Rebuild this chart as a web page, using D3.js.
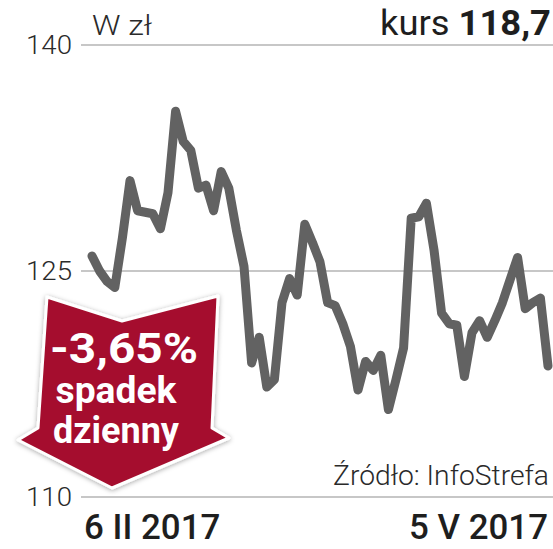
<!DOCTYPE html>
<html>
<head>
<meta charset="utf-8">
<script src="https://cdn.jsdelivr.net/npm/d3@7"></script>
<style>
  html, body { margin: 0; padding: 0; background: #fff; }
  svg { display: block; }
  text { font-family: Roboto, "Noto Sans", sans-serif; }
</style>
</head>
<body>
<div id="chart"></div>
<script>
const W = 553, H = 549;

// trading days 6 II 2017 .. 5 V 2017 (index), closing price in zł
const days = d3.range(0, 61);
const prices = [
	126.0, 125.0, 124.3, 123.9, 127.2, 131.0, 129.0, 128.9, 128.8, 127.8,
	130.2, 135.6, 133.6, 133.0, 130.5, 130.7, 129.0, 131.6, 130.5, 127.7,
	125.3, 118.9, 120.6, 117.3, 117.8, 122.9, 124.5, 123.4, 128.1, 126.9,
	125.6, 122.9, 122.7, 121.5, 120.0, 117.1, 119.0, 118.4, 119.4, 115.8,
	117.8, 119.9, 128.5, 128.6, 129.5, 126.4, 122.2, 121.5, 121.4, 118.0,
	120.9, 121.7, 120.6, 121.7, 122.9, 124.4, 125.9, 122.5, 122.9, 123.2,
	118.7
];
const yTicks = [110, 125, 140];
const dateLabels = ["6 II 2017", "5 V 2017"];
const badgeLines = ["-3,65%", "spadek", "dzienny"];

const svg = d3.select("#chart")
	.append("svg")
	.attr("width", W)
	.attr("height", H);

const x = d3.scaleLinear().domain([0, 60]).range([92, 548]);
const y = d3.scaleLinear().domain([110, 140]).range([497, 45]);

// grid lines
svg.append("g")
	.selectAll("line")
	.data(yTicks)
	.join("line")
	.attr("x1", 81)
	.attr("x2", W)
	.attr("y1", (d) => y(d))
	.attr("y2", (d) => y(d))
	.attr("stroke", "#b4b4b4")
	.attr("stroke-width", 1.6);

// tick labels
svg.append("g")
	.selectAll("text")
	.data(yTicks)
	.join("text")
	.attr("x", 72)
	.attr("y", (d) => y(d) + 9)
	.attr("text-anchor", "end")
	.attr("font-size", 25)
	.attr("font-weight", 300)
	.attr("fill", "#2a2a2a")
	.attr("textLength", 46)
	.attr("lengthAdjust", "spacingAndGlyphs")
	.text((d) => d);

// price line
const line = d3.line()
	.x((d, i) => x(days[i]))
	.y((d) => y(d));

svg.append("path")
	.datum(prices)
	.attr("d", line)
	.attr("fill", "none")
	.attr("stroke", "#626262")
	.attr("stroke-width", 9)
	.attr("stroke-linejoin", "round")
	.attr("stroke-linecap", "round");

// header
svg.append("text")
	.attr("x", 92)
	.attr("y", 35)
	.attr("font-size", 28)
	.attr("font-weight", 300)
	.attr("fill", "#2a2a2a")
	.attr("textLength", 60)
	.attr("lengthAdjust", "spacingAndGlyphs")
	.text("W zł");

const kurs = svg.append("text")
	.attr("x", 551)
	.attr("y", 35)
	.attr("text-anchor", "end")
	.attr("font-size", 35)
	.attr("fill", "#1e1e1e")
	.attr("textLength", 171)
	.attr("lengthAdjust", "spacingAndGlyphs");
kurs.append("tspan").attr("font-weight", 400).text("kurs ");
kurs.append("tspan").attr("font-weight", 700).text(d3.format(".1f")(prices[prices.length - 1]).replace(".", ","));

// source
svg.append("text")
	.attr("x", 549)
	.attr("y", 485)
	.attr("text-anchor", "end")
	.attr("font-size", 28)
	.attr("font-weight", 300)
	.attr("fill", "#2a2a2a")
	.attr("textLength", 216)
	.attr("lengthAdjust", "spacingAndGlyphs")
	.text("Źródło: InfoStrefa");

// date labels (condensed by horizontal scaling)
svg.append("g")
	.selectAll("g")
	.data([
		{ t: dateLabels[0], x: 84, anchor: "start" },
		{ t: dateLabels[1], x: 548, anchor: "end" },
	])
	.join("g")
	.attr("transform", (d) => `translate(${d.x},539) scale(0.97,1)`)
	.append("text")
	.attr("text-anchor", (d) => d.anchor)
	.attr("font-size", 36)
	.attr("font-weight", 500)
	.attr("fill", "#1e1e1e")
	.text((d) => d.t);

// red arrow badge
const defs = svg.append("defs");
const f = defs.append("filter").attr("id", "shadow")
	.attr("x", "-20%").attr("y", "-20%").attr("width", "140%").attr("height", "140%");
f.append("feDropShadow")
	.attr("dx", 0).attr("dy", 1)
	.attr("stdDeviation", 2.5)
	.attr("flood-color", "#000")
	.attr("flood-opacity", 0.35);

const badge = [
	[47, 297], [122, 321], [218, 296], [212, 428], [229, 438],
	[112, 488], [18, 440], [38, 428]
];
svg.append("polygon")
	.attr("points", badge.map((p) => p.join(",")).join(" "))
	.attr("fill", "#a5102e")
	.attr("stroke", "#fff")
	.attr("stroke-width", 3)
	.attr("stroke-linejoin", "round")
	.attr("filter", "url(#shadow)");

const badgeText = [
	{ t: badgeLines[0], y: 363, size: 42, len: 148, cx: 124 },
	{ t: badgeLines[1], y: 403, size: 36, len: 121, cx: 116 },
	{ t: badgeLines[2], y: 443, size: 36, len: 126, cx: 116 },
];
svg.append("g")
	.selectAll("text")
	.data(badgeText)
	.join("text")
	.attr("x", (d) => d.cx)
	.attr("y", (d) => d.y)
	.attr("text-anchor", "middle")
	.attr("font-size", (d) => d.size)
	.attr("font-weight", 700)
	.attr("fill", "#fff")
	.attr("textLength", (d) => d.len)
	.attr("lengthAdjust", "spacingAndGlyphs")
	.text((d) => d.t);
</script>
</body>
</html>
